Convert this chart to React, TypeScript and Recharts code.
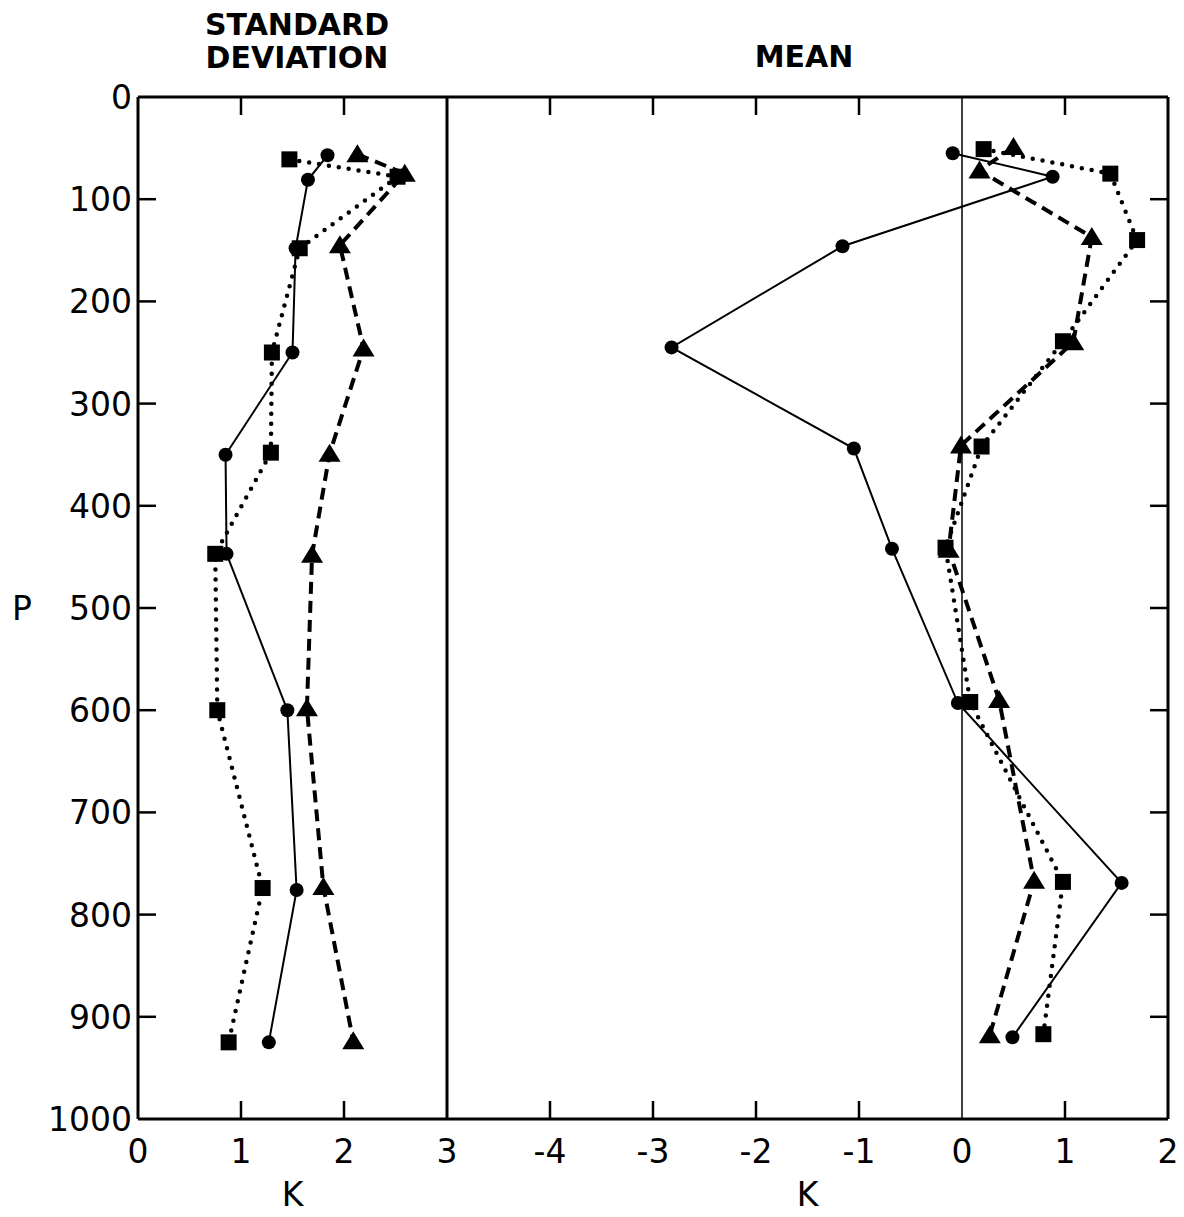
import React from 'react';
import {
  ScatterChart,
  Scatter,
  XAxis,
  YAxis,
  ReferenceLine,
} from 'recharts';

// standard deviation panel (K vs pressure)
const sdCircleP = [57, 81, 148, 250, 350, 447, 600, 776, 925];
const sdCircleK = [1.84, 1.65, 1.53, 1.5, 0.85, 0.86, 1.45, 1.54, 1.27];
const sdTriangleP = [56, 75, 145, 246, 349, 448, 598, 773, 924];
const sdTriangleK = [2.13, 2.59, 1.96, 2.19, 1.86, 1.69, 1.64, 1.8, 2.09];
const sdSquareP = [61, 78, 148, 250, 348, 447, 600, 774, 925];
const sdSquareK = [1.47, 2.52, 1.57, 1.3, 1.29, 0.75, 0.77, 1.21, 0.88];

// mean panel
const meanCircleP = [55, 78, 146, 245, 344, 442, 593, 769, 920];
const meanCircleK = [-0.09, 0.88, -1.16, -2.82, -1.05, -0.68, -0.04, 1.55, 0.49];
const meanTriangleP = [49, 72, 137, 240, 341, 443, 590, 767, 918];
const meanTriangleK = [0.5, 0.17, 1.26, 1.08, -0.01, -0.13, 0.36, 0.7, 0.27];
const meanSquareP = [51, 75, 140, 239, 342, 441, 592, 768, 917];
const meanSquareK = [0.21, 1.44, 1.7, 0.98, 0.19, -0.16, 0.08, 0.98, 0.79];

const pTicks = [0, 100, 200, 300, 400, 500, 600, 700, 800, 900, 1000];
const sdTicks = [0, 1, 2, 3];
const meanTicks = [-4, -3, -2, -1, 0, 1, 2];

const zip = (p: number[], k: number[]) => p.map((v, i) => ({ p: v, k: k[i] }));

const FONT = '"DejaVu Sans", "Liberation Sans", sans-serif';
const PLOT_TOP = 97;
const PLOT_H = 1022;
const TICK_LEN = 18;
const H = 1217;

const solid = { stroke: '#000', strokeWidth: 2 };
const dashed = { stroke: '#000', strokeWidth: 4, strokeDasharray: '12 7' };
const dotted = { stroke: '#000', strokeWidth: 4.5, strokeDasharray: '0 10', strokeLinecap: 'round' };

const circleShape = (p: any) => <circle cx={p.cx} cy={p.cy} r={7} fill="#000" />;
const squareShape = (p: any) => (
  <rect x={p.cx - 8} y={p.cy - 8} width={16} height={16} fill="#000" />
);
const triangleShape = (p: any) => (
  <polygon
    points={`${p.cx},${p.cy - 10} ${p.cx + 11},${p.cy + 8} ${p.cx - 11},${p.cy + 8}`}
    fill="#000"
  />
);

function makeXTick(marked: number[]) {
  return (props: any) => {
    const { x, y, payload } = props;
    const mark = marked.includes(payload.value);
    return (
      <g>
        {mark && (
          <>
            <line x1={x} y1={y} x2={x} y2={y - TICK_LEN} stroke="#000" strokeWidth={2.5} />
            <line x1={x} y1={y - PLOT_H} x2={x} y2={y - PLOT_H + TICK_LEN} stroke="#000" strokeWidth={2.5} />
          </>
        )}
        <text x={x} y={y + 44} textAnchor="middle" fontFamily={FONT} fontSize={33} fill="#000">
          {payload.value}
        </text>
      </g>
    );
  };
}

const LeftYTick = (props: any) => {
  const { x, y, payload } = props;
  const mark = payload.value > 0 && payload.value < 1000;
  return (
    <g>
      {mark && <line x1={x} y1={y} x2={x + TICK_LEN} y2={y} stroke="#000" strokeWidth={2.5} />}
      <text x={x - 6} y={y + 12} textAnchor="end" fontFamily={FONT} fontSize={33} fill="#000">
        {payload.value}
      </text>
    </g>
  );
};

const RightYTick = (props: any) => {
  const { x, y, payload } = props;
  if (payload.value <= 0 || payload.value >= 1000) return <g />;
  return <line x1={x} y1={y} x2={x - TICK_LEN} y2={y} stroke="#000" strokeWidth={2.5} />;
};

const kLabel = { value: 'K', position: 'insideBottom', offset: 9, fontFamily: FONT, fontSize: 33, fill: '#000' } as any;

export default function App() {
  const frame = { stroke: '#000', strokeWidth: 3 };
  const title = { position: 'absolute' as const, width: 300, textAlign: 'center' as const, fontFamily: FONT, fontWeight: 'bold', fontSize: 30, lineHeight: '33px' };
  return (
    <div style={{ position: 'absolute', left: 0, top: 0, width: 1184, height: H, background: '#fff' }}>
      <div style={{ ...title, left: 147, top: 8 }}>
        STANDARD
        <br />
        DEVIATION
      </div>
      <div style={{ ...title, left: 654, top: 40 }}>MEAN</div>

      <div style={{ position: 'absolute', left: 0, top: 0 }}>
        <ScatterChart width={460} height={H} margin={{ top: PLOT_TOP, right: 13, bottom: 2, left: 0 }}>
          <XAxis
            type="number"
            dataKey="k"
            domain={[0, 3]}
            ticks={sdTicks}
            interval={0}
            height={96}
            tickSize={0}
            tickMargin={0}
            tickLine={false}
            axisLine={frame}
            tick={makeXTick([1, 2])}
            label={kLabel}
          />
          <YAxis
            type="number"
            dataKey="p"
            domain={[0, 1000]}
            reversed
            ticks={pTicks}
            interval={0}
            width={138}
            tickSize={0}
            tickMargin={0}
            tickLine={false}
            axisLine={frame}
            tick={LeftYTick}
            label={{ value: 'P', position: 'insideLeft', offset: 12, fontFamily: FONT, fontSize: 33, fill: '#000' } as any}
          />
          <ReferenceLine y={0} stroke="#000" strokeWidth={3} />
          <ReferenceLine x={3} stroke="#000" strokeWidth={3} />
          <Scatter data={zip(sdCircleP, sdCircleK)} fill="#000" line={solid} lineType="joint" shape={circleShape} isAnimationActive={false} />
          <Scatter data={zip(sdTriangleP, sdTriangleK)} fill="#000" line={dashed} lineType="joint" shape={triangleShape} isAnimationActive={false} />
          <Scatter data={zip(sdSquareP, sdSquareK)} fill="#000" line={dotted} lineType="joint" shape={squareShape} isAnimationActive={false} />
        </ScatterChart>
      </div>

      <div style={{ position: 'absolute', left: 430, top: 0 }}>
        <ScatterChart width={754} height={H} margin={{ top: PLOT_TOP, right: 15, bottom: 2, left: 17 }}>
          <XAxis
            type="number"
            dataKey="k"
            domain={[-5, 2]}
            ticks={meanTicks}
            interval={0}
            height={96}
            tickSize={0}
            tickMargin={0}
            tickLine={false}
            axisLine={frame}
            tick={makeXTick([-4, -3, -2, -1, 1])}
            label={kLabel}
          />
          <YAxis
            type="number"
            dataKey="p"
            orientation="right"
            domain={[0, 1000]}
            reversed
            ticks={pTicks}
            interval={0}
            width={1}
            tickSize={0}
            tickMargin={0}
            tickLine={false}
            axisLine={frame}
            tick={RightYTick}
          />
          <ReferenceLine y={0} stroke="#000" strokeWidth={3} />
          <ReferenceLine x={0} stroke="#000" strokeWidth={1.5} />
          <Scatter data={zip(meanCircleP, meanCircleK)} fill="#000" line={solid} lineType="joint" shape={circleShape} isAnimationActive={false} />
          <Scatter data={zip(meanTriangleP, meanTriangleK)} fill="#000" line={dashed} lineType="joint" shape={triangleShape} isAnimationActive={false} />
          <Scatter data={zip(meanSquareP, meanSquareK)} fill="#000" line={dotted} lineType="joint" shape={squareShape} isAnimationActive={false} />
        </ScatterChart>
      </div>
    </div>
  );
}
